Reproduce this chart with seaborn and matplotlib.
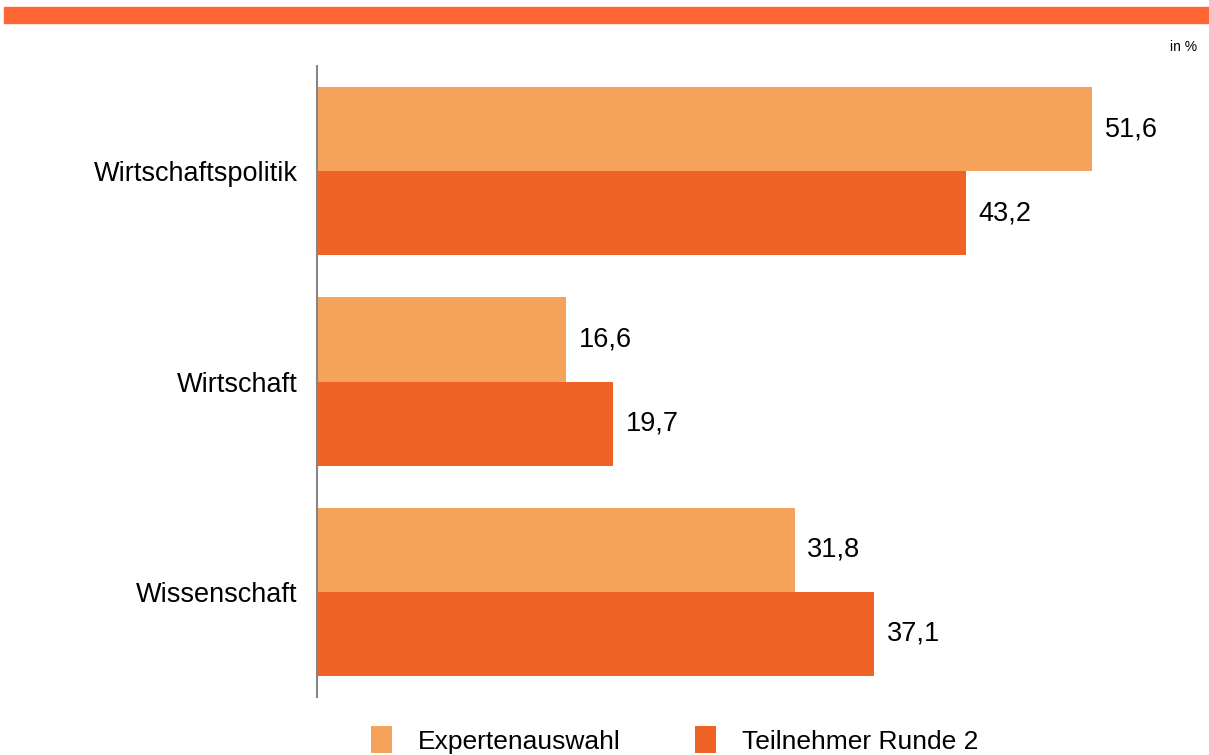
import pandas as pd
import seaborn as sns
from matplotlib import pyplot as plt
from matplotlib.patches import Rectangle, Patch


# Chart data
categories = ["Wirtschaftspolitik", "Wirtschaft", "Wissenschaft"]
series = ["Expertenauswahl", "Teilnehmer Runde 2"]
experten = [51.6, 16.6, 31.8]
teilnehmer = [43.2, 19.7, 37.1]

colors = ["#F5A35A", "#EF6426"]

data = pd.DataFrame({
    "Kategorie": categories * 2,
    "Gruppe": [series[0]] * 3 + [series[1]] * 3,
    "Wert": experten + teilnehmer,
})

sns.set_style("white")
plt.rcParams['font.family'] = ['Liberation Sans', 'DejaVu Sans']
plt.rcParams['text.color'] = 'black'

fig = plt.figure(figsize=(12.09, 7.55), dpi=100)
ax = fig.add_axes([317 / 1209, 58 / 755, (1200 - 317) / 1209, (697 - 66) / 755])

sns.barplot(data=data, y="Kategorie", x="Wert", hue="Gruppe", palette=colors,
            orient="h", width=0.8, saturation=1, linewidth=0, ax=ax, legend=False)

# Value labels with comma decimals
for container in ax.containers:
    ax.bar_label(container, labels=[f"{v:.1f}".replace(".", ",") for v in container.datavalues],
                 padding=9, fontsize=19.5, color="black")

ax.set_xlim(0, (1200 - 317) / 15.02)
ax.set_ylim(2.5, -0.5)
ax.set_xlabel("")
ax.set_ylabel("")
ax.set_xticks([])
ax.tick_params(axis="y", length=0, pad=14, labelsize=19.5, labelcolor="black")
for side in ["top", "right", "bottom"]:
    ax.spines[side].set_visible(False)
ax.spines["left"].set_color("#868686")
ax.spines["left"].set_linewidth(1.5)

# Orange band at the top
fig.patches.append(Rectangle((4 / 1209, 1 - 23 / 755), 1, 16 / 755,
                             transform=fig.transFigure, color="#FF6633", zorder=0))
fig.text(1197 / 1209, 1 - 47 / 755, "in %", ha="right", va="center", fontsize=10, color="black")

handles = [Patch(facecolor=c, edgecolor="none") for c in colors]
fig.legend(handles, series, loc="center", bbox_to_anchor=(0.558, 1 - 740 / 755), ncol=2,
           frameon=False, fontsize=19, labelcolor="black", handlelength=0.8,
           handleheight=1.15, handletextpad=1.0, columnspacing=2.8)

fig.savefig("out.png", dpi=100)
